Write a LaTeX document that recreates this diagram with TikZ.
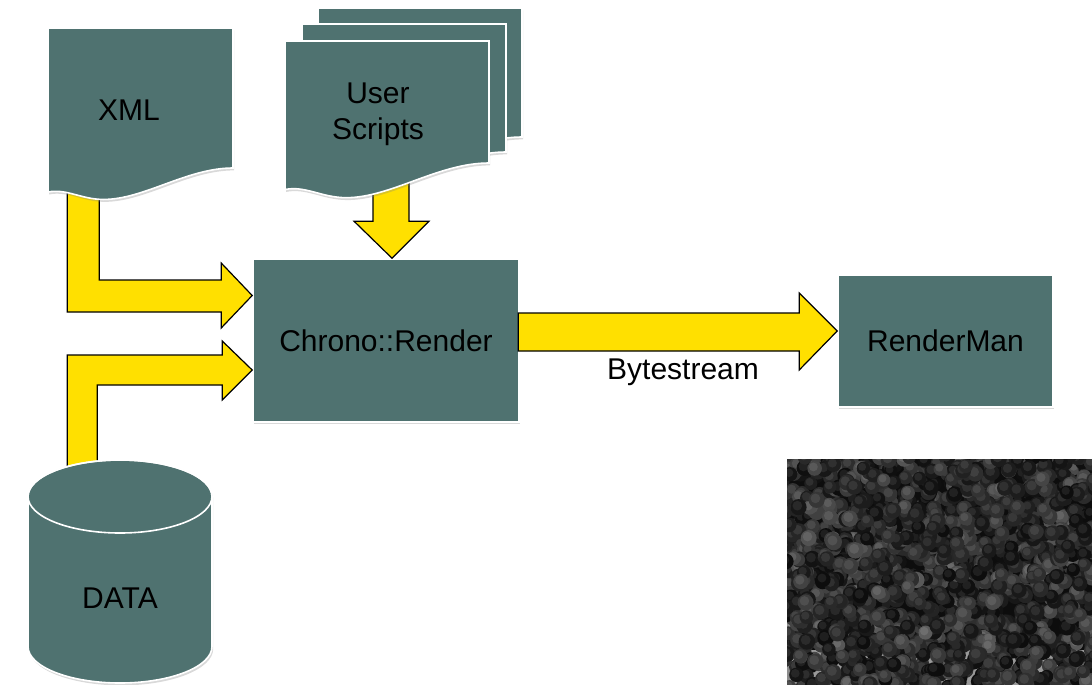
\documentclass[tikz,border=0pt]{standalone}
\usepackage{fontspec}
\setmainfont{Liberation Sans}
\usetikzlibrary{calc,shadows}

\definecolor{slate}{RGB}{79,114,112}
\definecolor{signal}{RGB}{255,224,0}

% page with a wavy lower edge: top-left x, top-left y, width, height at right edge
\newcommand{\docpage}[4]{%
  \filldraw[page] (#1,#2) -- ++(#3,0) -- ++(0,#4)
    .. controls +(-0.25*#3,0) and +(0.22*#3,0) .. ++(-0.7*#3,0.17*#3)
    .. controls +(-0.12*#3,0) and +(0.1*#3,-0.02*#3) .. ++(-0.3*#3,-0.04*#3)
    -- cycle;}

\begin{document}
\begin{tikzpicture}[x=0.5pt, y=-0.5pt,
    every node/.style={inner sep=0, font=\fontsize{15}{18}\selectfont, text=black},
    unit/.style={fill=slate, draw=white, line width=0.8pt,
      drop shadow={shadow xshift=0.6pt, shadow yshift=-1.2pt, opacity=0.3}},
    page/.style={unit},
    flow/.style={fill=signal, draw=black, line width=0.6pt, line join=miter}]
  \useasboundingbox (0,0) rectangle (1092,685);

  % Processing boxes
  \node[unit, minimum width=133pt, minimum height=81.5pt] (chrono) at (386,340.5) {Chrono::Render};
  \node[unit, minimum width=107.5pt, minimum height=66pt] (render) at (945.5,341) {RenderMan};

  % Block arrows into Chrono::Render
  \draw[flow] ($(chrono.west)+(0,-45)$) -- ++(-31,-32.5) -- ++(0,17) -- ++(-122,0)
    -- ++(0,-90) -- ++(-32,0) -- ++(0,122) -- ++(154,0) -- ++(0,16) -- cycle;
  \draw[flow] ($(chrono.west)+(0,29.5)$) -- ++(-30,-29) -- ++(0,14) -- ++(-155,0)
    -- ++(0,115) -- ++(30,0) -- ++(0,-85) -- ++(125,0) -- ++(0,15) -- cycle;
  \draw[flow] ($(chrono.north)+(6,0)$) -- ++(-38,-37) -- ++(19,0) -- ++(0,-45)
    -- ++(36,0) -- ++(0,45) -- ++(20,0) -- cycle;

  % Bytestream
  \draw[flow] ($(render.west)+(0,-10)$) -- ++(-38,-38) -- ++(0,20) -- ++(-281,0)
    -- ++(0,38) -- ++(281,0) -- ++(0,19) -- cycle;
  \node (bytes) at (683,372) {Bytestream};

  % Input pages
  \foreach \px/\py/\h in {318/8/129, 302/24/128, 285/41/122} {
    \docpage{\px}{\py}{204}{\h}
  }
  \docpage{48}{28}{185}{140}
  \node (xml) at (129,110) {XML};
  \node[align=center] (scripts) at (378,114) {User\\Scripts};

  % Data store
  \filldraw[page] (28,496.5) -- (28,646.5) arc[start angle=180, end angle=0, x radius=92, y radius=36.5]
    -- (212,496.5) arc[start angle=0, end angle=-180, x radius=92, y radius=36.5] -- cycle;
  \draw[white, line width=0.8pt] (120,496.5) ellipse[x radius=92, y radius=36.5];
  \node (data) at (120,598) {DATA};

  % Rendered frame: packed spheres
  \begin{scope}
    \clip (787,459) rectangle (1092,685);
    \fill[black!95] (787,459) rectangle (1092,685);
    \fill[black!40] (787,650) rectangle (1092,685);
    \fill[black!45] (787,470) rectangle (792,685);
    \pgfmathsetseed{42}
    \foreach \i in {1,...,1500} {
      \pgfmathsetmacro\cx{785+310*rnd}
      \pgfmathsetmacro\cy{455+232*rnd}
      \pgfmathsetmacro\r{6.5+1.8*rnd}
      \pgfmathsetmacro\sh{int(64+32*sqrt(rnd))}
      \pgfmathsetmacro\hl{int(\sh-7)}
      \fill[black!\sh] (\cx,\cy) circle[radius=\r];
      \fill[black!\hl] (\cx-1.2,\cy-1.5) circle[radius=0.6*\r];
    }
  \end{scope}
\end{tikzpicture}
\end{document}
